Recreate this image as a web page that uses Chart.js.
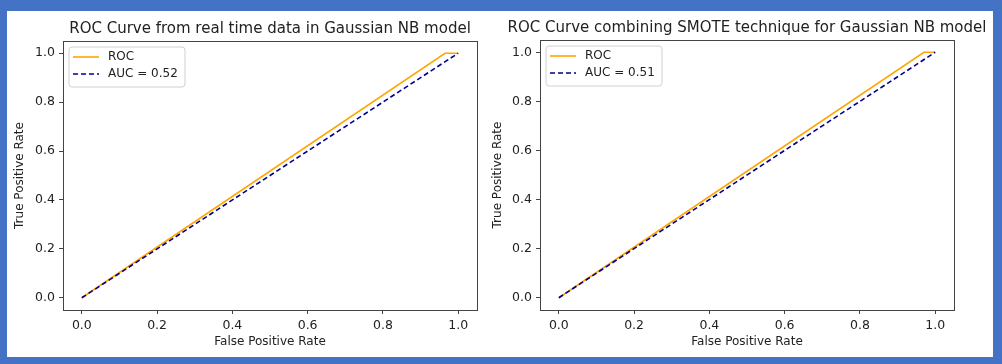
<!DOCTYPE html>
<html>
<head>
<meta charset="utf-8">
<script src="https://cdn.jsdelivr.net/npm/chart.js@4.4.1/dist/chart.umd.min.js"></script>
<style>
  html, body { margin: 0; padding: 0; }
  body { width: 1002px; height: 364px; background: #4472C4; position: relative; overflow: hidden; }
  #sheet { position: absolute; left: 7px; top: 11px; width: 986px; height: 346px; background: #fff; }
  .box { position: absolute; top: 0; height: 364px; }
</style>
</head>
<body>
<div id="sheet"></div>
<div class="box" style="left:0;width:490px"><canvas id="rocReal"></canvas></div>
<div class="box" style="left:490px;width:510px"><canvas id="rocSmote"></canvas></div>
<script>
// ROC points (false positive rate / true positive rate)
const realFpr = [0, 0.965, 1];
const realTpr = [0, 1, 1];
const smoteFpr = [0, 0.97, 1];
const smoteTpr = [0, 1, 1];
// chance diagonal
const diagX = [0, 1];
const diagY = [0, 1];
const tickValues = [0, 0.2, 0.4, 0.6, 0.8, 1.0];
const realAuc = '0.52';
const smoteAuc = '0.51';
const realTitle = 'ROC Curve from real time data in Gaussian NB model';
const smoteTitle = 'ROC Curve combining SMOTE technique for Gaussian NB model';

const font = 'DejaVu Sans';
const textColor = '#222';
const frameColor = '#444';

function toPoints(xs, ys) {
    return xs.map((x, i) => ({ x: x, y: ys[i] }));
}

// title centred over the axes (like matplotlib), not over the whole canvas
const axesTitle = {
    id: 'axesTitle',
    afterDraw(chart, args, opts) {
        const a = chart.chartArea;
        const ctx = chart.ctx;
        ctx.save();
        ctx.font = '15px "' + font + '"';
        ctx.fillStyle = textColor;
        ctx.textAlign = 'center';
        ctx.textBaseline = 'middle';
        ctx.fillText(opts.text, (a.left + a.right) / 2, opts.y);
        ctx.restore();
    }
};

// matplotlib style legend box in the upper left corner of the axes
const cornerLegend = {
    id: 'cornerLegend',
    afterDraw(chart) {
        const ctx = chart.ctx;
        const area = chart.chartArea;
        const x = area.left + 6, y = area.top + 6;
        const w = 116, h = 40;
        ctx.save();
        ctx.beginPath();
        ctx.roundRect(x, y, w, h, 3);
        ctx.fillStyle = 'rgba(255,255,255,0.8)';
        ctx.fill();
        ctx.strokeStyle = '#d0d0d0';
        ctx.lineWidth = 1;
        ctx.stroke();
        ctx.font = '12px "' + font + '"';
        ctx.textBaseline = 'middle';
        chart.data.datasets.forEach((ds, i) => {
            const ly = y + 10 + i * 17;
            ctx.beginPath();
            ctx.setLineDash(ds.borderDash || []);
            ctx.strokeStyle = ds.borderColor;
            ctx.lineWidth = ds.borderWidth;
            ctx.moveTo(x + 4, ly);
            ctx.lineTo(x + 30, ly);
            ctx.stroke();
            ctx.setLineDash([]);
            ctx.fillStyle = textColor;
            ctx.fillText(ds.label, x + 39, ly);
        });
        ctx.restore();
    }
};

// full box frame round the axes
const axesFrame = {
    id: 'axesFrame',
    afterDraw(chart) {
        const a = chart.chartArea;
        const ctx = chart.ctx;
        ctx.save();
        ctx.strokeStyle = frameColor;
        ctx.lineWidth = 1;
        ctx.strokeRect(Math.round(a.left) + 0.5, Math.round(a.top) + 0.5,
            Math.round(a.right - a.left), Math.round(a.bottom - a.top));
        ctx.restore();
    }
};

function axis(title, fit, titlePad) {
    return {
        type: 'linear',
        min: -0.05,
        max: 1.05,
        afterBuildTicks: (scale) => { scale.ticks = tickValues.map(v => ({ value: v })); },
        afterFit: fit,
        grid: { drawOnChartArea: false, drawTicks: true, tickLength: 4, tickColor: frameColor },
        border: { display: false },
        ticks: {
            padding: 4,
            color: textColor,
            font: { family: font, size: 12.5 },
            maxRotation: 0,
            callback: (v) => Number(v).toFixed(1)
        },
        title: { display: true, text: title, color: textColor, font: { family: font, size: 12 }, padding: titlePad }
    };
}

function drawRoc(canvasId, canvasLeft, canvasWidth, area, titleText, fpr, tpr, auc, yTitleX, titleY) {
    return new Chart(document.getElementById(canvasId), {
        type: 'line',
        data: {
            datasets: [
                {
                    label: 'ROC',
                    data: toPoints(fpr, tpr),
                    borderColor: '#FFA500',
                    borderWidth: 1.6,
                    pointRadius: 0,
                    tension: 0,
                    order: 1
                },
                {
                    label: 'AUC = ' + auc,
                    data: toPoints(diagX, diagY),
                    borderColor: '#00008B',
                    borderWidth: 1.6,
                    borderDash: [5, 3],
                    pointRadius: 0,
                    tension: 0,
                    order: 0
                }
            ]
        },
        options: {
            responsive: true,
            maintainAspectRatio: false,
            animation: false,
            layout: {
                padding: { top: area.top, left: 0, right: canvasLeft + canvasWidth - area.right, bottom: 0 }
            },
            scales: {
                x: axis('False Positive Rate', (s) => { s.height = 364 - area.bottom; }, { top: 0, bottom: 14.8 }),
                y: axis('True Positive Rate', (s) => { s.width = area.left - canvasLeft; }, { top: yTitleX - canvasLeft - 7.2, bottom: 0 })
            },
            plugins: {
                legend: { display: false },
                tooltip: { enabled: false },
                title: { display: false },
                axesTitle: { text: titleText, y: titleY }
            }
        },
        plugins: [axesFrame, cornerLegend, axesTitle]
    });
}

drawRoc('rocReal', 0, 490, { left: 63, right: 477, top: 41, bottom: 310 },
    realTitle, realFpr, realTpr, realAuc, 20, 29);
drawRoc('rocSmote', 490, 510, { left: 540, right: 954, top: 40, bottom: 310 },
    smoteTitle, smoteFpr, smoteTpr, smoteAuc, 498, 28);
</script>
</body>
</html>
